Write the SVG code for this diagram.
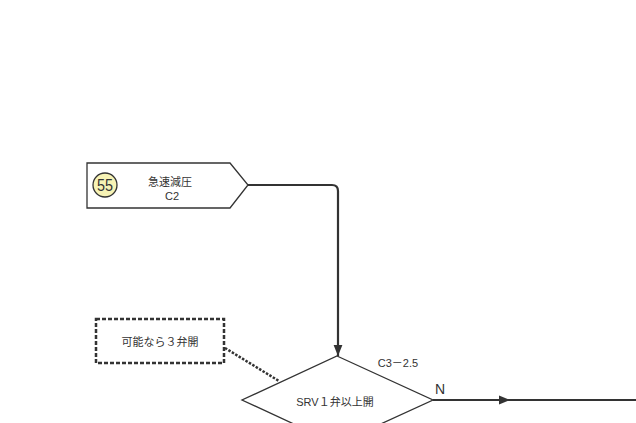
<svg xmlns="http://www.w3.org/2000/svg" width="636" height="423" viewBox="0 0 636 423">
<defs>
<style>
.shape{fill:#fff;stroke:#333;stroke-width:1.3}
.t{font-family:"Liberation Sans","Noto Sans CJK JP",sans-serif;fill:#333;font-size:11px}
.big{font-size:17px}
.n{font-size:14px}
.conn{fill:none;stroke:#333;stroke-width:2.2}
</style>
<marker id="arr" viewBox="0 0 10 10" refX="10" refY="5" markerWidth="5" markerHeight="5" orient="auto" markerUnits="strokeWidth">
<path d="M0,1 L10,5 L0,9 z" fill="#333"/>
</marker>
</defs>
<rect width="636" height="423" fill="#fff"/>
<g id="connectors">
<path class="conn" d="M248,185 H332 Q338,185 338,191 V356" marker-end="url(#arr)"/>
<path class="conn" d="M433,400 H636"/>
<path class="conn" d="M433,400 H510" marker-end="url(#arr)"/>
<path d="M225,348 L279,381" fill="none" stroke="#333" stroke-width="2.5" stroke-dasharray="2.5,1.5"/>
</g>
<g id="node55">
<polygon class="shape" points="87,163 230,163 248,185 230,208 87,208"/>
<circle cx="105" cy="185" r="12" fill="#f7f3b5" stroke="#333" stroke-width="1.3"/>
<text class="t big" x="105" y="191" text-anchor="middle" textLength="16" lengthAdjust="spacingAndGlyphs">55</text>
<text class="t" x="170" y="186" text-anchor="middle">急速減圧</text>
<text class="t" x="172" y="200" text-anchor="middle">C2</text>
</g>
<g id="note">
<rect x="96" y="319" width="128" height="44" fill="#fff" stroke="#333" stroke-width="2.5" stroke-dasharray="4,2"/>
<text class="t" x="160" y="346" text-anchor="middle">可能なら３弁開</text>
</g>
<g id="decision">
<polygon class="shape" points="337,356 433,400 337,444 242,400"/>
<text class="t" x="335" y="406" text-anchor="middle">SRV１弁以上開</text>
<text class="t" x="398" y="367" text-anchor="middle">C3－2.5</text>
<text class="t n" x="440" y="394" text-anchor="middle">N</text>
</g>
</svg>
